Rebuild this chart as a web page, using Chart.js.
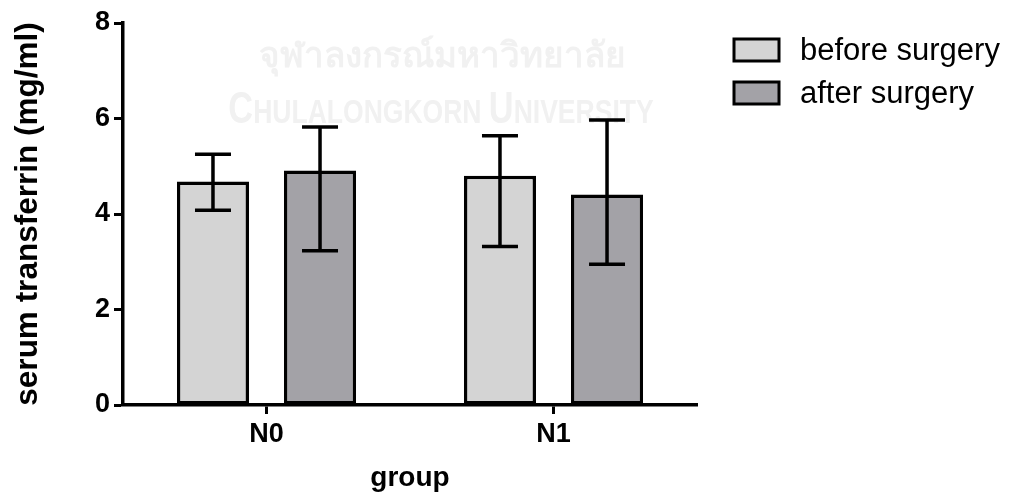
<!DOCTYPE html>
<html>
<head>
<meta charset="utf-8">
<script src="https://cdn.jsdelivr.net/npm/chart.js@4.4.1/dist/chart.umd.min.js"></script>
<style>
  html, body { margin: 0; padding: 0; background: #fff; }
</style>
</head>
<body>
<canvas id="transferrinChart" width="1012" height="495"></canvas>
<script>
// Data
const groups = ['N0', 'N1'];
const seriesNames = ['before surgery', 'after surgery'];
const beforeMean = [4.68, 4.80];
const beforeLow = [4.08, 3.32];
const beforeHigh = [5.25, 5.64];
const afterMean = [4.91, 4.41];
const afterLow = [3.23, 2.95];
const afterHigh = [5.82, 5.97];
const yTicks = [0, 2, 4, 6, 8];

const FONT = "'Liberation Sans', Arial, Helvetica, sans-serif";

// Faint watermark behind the plot (small-caps style English line, squeezed)
const watermark = {
    id: 'watermark',
    beforeDraw(chart) {
        const ctx = chart.ctx;
        ctx.save();
        ctx.fillStyle = '#f1f1f1';
        ctx.textAlign = 'center';
        ctx.textBaseline = 'middle';
        ctx.font = "bold 35px 'Noto Sans', 'DejaVu Sans', sans-serif";
        ctx.fillText('จุฬาลงกรณ์มหาวิทยาลัย', 442, 57);

        const parts = [['C', 44], ['HULALONGKORN ', 34], ['U', 44], ['NIVERSITY', 34]];
        const squeeze = 0.78;
        ctx.textAlign = 'left';
        ctx.textBaseline = 'alphabetic';
        let total = 0;
        parts.forEach(p => {
            ctx.font = 'bold ' + p[1] + 'px ' + FONT;
            total += ctx.measureText(p[0]).width;
        });
        ctx.translate(441 - total * squeeze / 2, 123);
        ctx.scale(squeeze, 1);
        let x = 0;
        parts.forEach(p => {
            ctx.font = 'bold ' + p[1] + 'px ' + FONT;
            ctx.fillText(p[0], x, 0);
            x += ctx.measureText(p[0]).width;
        });
        ctx.restore();
    }
};

// Whiskers with caps
const errorBars = {
    id: 'errorBars',
    afterDatasetsDraw(chart) {
        const ctx = chart.ctx;
        const yScale = chart.scales.y;
        ctx.save();
        ctx.strokeStyle = '#000';
        ctx.lineWidth = 3.5;
        chart.data.datasets.forEach((ds, i) => {
            const meta = chart.getDatasetMeta(i);
            meta.data.forEach((bar, j) => {
                const top = yScale.getPixelForValue(ds.errHigh[j]);
                const bottom = yScale.getPixelForValue(ds.errLow[j]);
                const half = 18;
                ctx.beginPath();
                ctx.moveTo(bar.x, top);
                ctx.lineTo(bar.x, bottom);
                ctx.moveTo(bar.x - half, top);
                ctx.lineTo(bar.x + half, top);
                ctx.moveTo(bar.x - half, bottom);
                ctx.lineTo(bar.x + half, bottom);
                ctx.stroke();
            });
        });
        ctx.restore();
    }
};

// Legend on the right, drawn by hand to sit where the figure has it
const sideLegend = {
    id: 'sideLegend',
    afterDraw(chart) {
        const ctx = chart.ctx;
        ctx.save();
        ctx.font = '31px ' + FONT;
        ctx.textBaseline = 'middle';
        ctx.textAlign = 'left';
        chart.data.datasets.forEach((ds, i) => {
            const cy = 50 + i * 43;
            ctx.fillStyle = ds.backgroundColor;
            ctx.fillRect(734, cy - 11, 45, 22);
            ctx.lineWidth = 3;
            ctx.strokeStyle = '#000';
            ctx.strokeRect(734, cy - 11, 45, 22);
            ctx.fillStyle = '#000';
            ctx.fillText(ds.label, 800, cy + 1);
        });
        ctx.restore();
    }
};

const ctx = document.getElementById('transferrinChart');
const transferrinChart = new Chart(ctx, {
    type: 'bar',
    data: {
        labels: groups,
        datasets: [{
            label: seriesNames[0],
            data: beforeMean,
            errLow: beforeLow,
            errHigh: beforeHigh,
            backgroundColor: '#d4d4d4',
            borderColor: '#000',
            borderWidth: 3.5,
            borderSkipped: false
        }, {
            label: seriesNames[1],
            data: afterMean,
            errLow: afterLow,
            errHigh: afterHigh,
            backgroundColor: '#a3a2a7',
            borderColor: '#000',
            borderWidth: 3.5,
            borderSkipped: false
        }]
    },
    options: {
        responsive: false,
        animation: false,
        categoryPercentage: 0.746,
        barPercentage: 0.673,
        layout: {
            padding: { left: 0, right: 315, top: 23, bottom: 0 }
        },
        plugins: {
            legend: { display: false },
            tooltip: { enabled: false }
        },
        scales: {
            x: {
                afterFit(scale) { scale.height = 90; },
                border: { display: true, color: '#000', width: 3.5 },
                grid: {
                    offset: false,
                    drawOnChartArea: false,
                    drawTicks: true,
                    tickLength: 9,
                    tickColor: '#000',
                    tickWidth: 3
                },
                ticks: {
                    color: '#000',
                    padding: 4,
                    font: { family: FONT, size: 27, weight: 'bold' }
                },
                title: {
                    display: true,
                    text: 'group',
                    color: '#000',
                    padding: { top: 0, bottom: 0 },
                    font: { family: FONT, size: 28, weight: 'bold' }
                }
            },
            y: {
                min: 0,
                max: 8,
                afterBuildTicks(scale) {
                    scale.ticks = yTicks.map(v => ({ value: v }));
                },
                afterFit(scale) { scale.width = 123; },
                border: { display: true, color: '#000', width: 3.5 },
                grid: {
                    drawOnChartArea: false,
                    drawTicks: true,
                    tickLength: 9,
                    tickColor: '#000',
                    tickWidth: 3
                },
                ticks: {
                    color: '#000',
                    padding: 4,
                    font: { family: FONT, size: 27, weight: 'bold' }
                },
                title: {
                    display: true,
                    text: 'serum transferrin (mg/ml)',
                    color: '#000',
                    padding: { top: 9, bottom: 0 },
                    font: { family: FONT, size: 31.5, weight: 'bold' }
                }
            }
        }
    },
    plugins: [watermark, errorBars, sideLegend]
});
</script>
</body>
</html>
